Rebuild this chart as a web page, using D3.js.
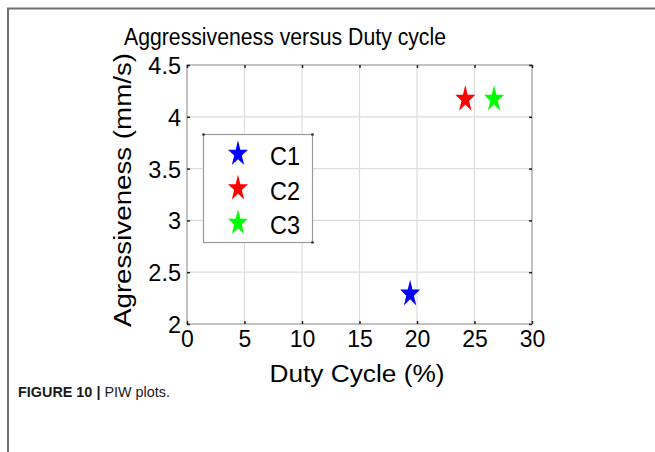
<!DOCTYPE html>
<html><head><meta charset="utf-8">
<script src="https://cdn.jsdelivr.net/npm/d3@7"></script>
<style>body{margin:0;background:#fff}svg{display:block}text{font-family:"Liberation Sans",Arial,sans-serif}</style>
</head><body><svg id="c" width="655" height="452"></svg>
<script>
const series = ["C1","C2","C3"];
const dutyCycle = [19.4, 24.2, 26.7];
const aggressiveness = [2.29, 4.17, 4.17];
const colors = ["#0000ff","#ff0000","#00ff00"];
const xTicks = [0,5,10,15,20,25,30];
const yTicks = [2,2.5,3,3.5,4,4.5];
const yTickLabels = ["2","2.5","3","3.5","4","4.5"];
const title = "Aggressiveness versus Duty cycle";
const xLabel = "Duty Cycle (%)";
const yLabel = "Agressiveness (mm/s)";

const svg = d3.select("#c");
// outer frame
svg.append("path").attr("d","M8,452V8.5H655").attr("fill","none").attr("stroke","#6f6f6f").attr("stroke-width",2);

const L=187,R=532,T=65,B=324;
const x = d3.scaleLinear().domain([0,30]).range([L,R]);
const y = d3.scaleLinear().domain([2,4.5]).range([B,T]);
const g = svg.append("g");

// grid
g.selectAll(".gx").data(xTicks.slice(1,-1)).join("line")
 .attr("x1",d=>x(d)).attr("x2",d=>x(d)).attr("y1",T).attr("y2",B)
 .attr("stroke","#dcdcdc").attr("stroke-width",1.2);
g.selectAll(".gy").data(yTicks.slice(1,-1)).join("line")
 .attr("y1",d=>y(d)).attr("y2",d=>y(d)).attr("x1",L).attr("x2",R)
 .attr("stroke","#dcdcdc").attr("stroke-width",1.2);
// box
g.append("rect").attr("x",L).attr("y",T).attr("width",R-L).attr("height",B-T)
 .attr("fill","none").attr("stroke","#9a9a9a").attr("stroke-width",1.2);

// axes via d3 axis
const xAxisB = d3.axisBottom(x).tickValues(xTicks).tickSize(-3).tickPadding(6).tickFormat(d3.format("d"));
const xAxisT = d3.axisTop(x).tickValues(xTicks).tickSize(-3).tickFormat("");
const yAxisL = d3.axisLeft(y).tickValues(yTicks).tickSize(-3).tickPadding(6).tickFormat((d,i)=>yTickLabels[i]);
const yAxisR = d3.axisRight(y).tickValues(yTicks).tickSize(-3).tickFormat("");
function style(sel){sel.select(".domain").remove();sel.selectAll(".tick line").attr("stroke","#222").attr("stroke-width",1.5);}
g.append("g").attr("transform",`translate(0,${B})`).call(xAxisB).call(style)
 .selectAll("text").attr("font-size",23).attr("fill","#000").attr("dy","0.72em");
g.append("g").attr("transform",`translate(0,${T})`).call(xAxisT).call(style);
g.append("g").attr("transform",`translate(${L},0)`).call(yAxisL).call(style)
 .selectAll("text").attr("font-size",23.5).attr("fill","#000").attr("dy","0.36em");
g.append("g").attr("transform",`translate(${R},0)`).call(yAxisR).call(style);

const star = d3.symbol(d3.symbolStar, 124);
g.selectAll(".pt").data(series).join("path")
 .attr("d",star())
 .attr("transform",(d,i)=>`translate(${x(dutyCycle[i])},${y(aggressiveness[i])}) scale(1,1.35)`)
 .attr("fill",(d,i)=>colors[i]);

// legend
const lg = svg.append("g");
lg.append("rect").attr("x",203.5).attr("y",134.5).attr("width",109).attr("height",108)
 .attr("fill","#fff").attr("stroke","#9a9a9a").attr("stroke-width",1.2);
[[203.5,134.5],[312.5,134.5],[312.5,242.5]].forEach(p=>{
  lg.append("rect").attr("x",p[0]-1.2).attr("y",p[1]-1).attr("width",2.4).attr("height",2).attr("fill","#222");
});
const ly = d3.scalePoint().domain(series).range([153,222]);
lg.selectAll(".ls").data(series).join("path")
 .attr("d",star()).attr("transform",(d,i)=>`translate(238,${ly(d)+1}) scale(1,1.3)`).attr("fill",(d,i)=>colors[i]);
lg.selectAll(".lt").data(series).join("text")
 .attr("x",270).attr("y",d=>ly(d)+12).attr("font-size",25).attr("textLength",30).attr("lengthAdjust","spacingAndGlyphs").text(d=>d);

// titles
svg.append("text").attr("x",285).attr("y",45).attr("text-anchor","middle").attr("font-size",23.5)
 .attr("textLength",322).attr("lengthAdjust","spacingAndGlyphs").text(title);
svg.append("text").attr("x",357).attr("y",382).attr("text-anchor","middle").attr("font-size",23.5)
 .attr("textLength",175).attr("lengthAdjust","spacingAndGlyphs").text(xLabel);
svg.append("text").attr("transform","translate(131,190) rotate(-90)").attr("text-anchor","middle").attr("font-size",23.5)
 .attr("textLength",274).attr("lengthAdjust","spacingAndGlyphs").text(yLabel);

// caption
const cap = svg.append("text").attr("x",18).attr("y",397).attr("font-size",15).attr("fill","#1a1a1a")
 .attr("textLength",152).attr("lengthAdjust","spacingAndGlyphs");
cap.append("tspan").attr("font-weight","bold").text("FIGURE 10 | ");
cap.append("tspan").text("PIW plots.");
</script></body></html>
